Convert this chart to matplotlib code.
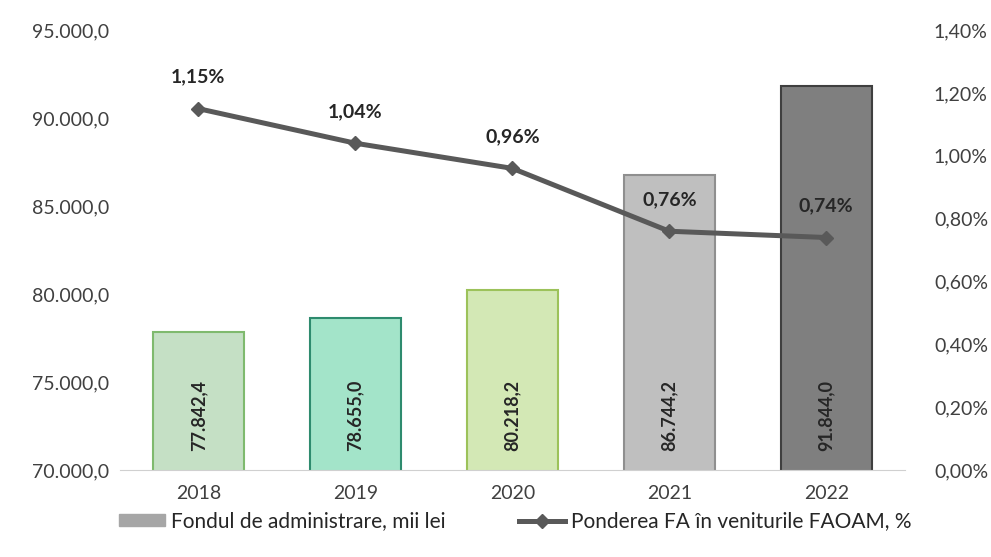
import matplotlib.pyplot as plt
from matplotlib.lines import Line2D
from matplotlib.patches import Patch

plt.rcParams['font.family'] = ['Lato', 'DejaVu Sans']

years = ["2018", "2019", "2020", "2021", "2022"]
fond = [77842.4, 78655.0, 80218.2, 86744.2, 91844.0]
pondere = [1.15, 1.04, 0.96, 0.76, 0.74]

bar_colors = ["#c5e0c5", "#a3e4c9", "#d3e8b5", "#bfbfbf", "#7f7f7f"]
edge_colors = ["#7fba6e", "#2e8b6e", "#9cc25a", "#8f8f8f", "#3f3f3f"]


def ro(v, dec):
    s = f"{v:,.{dec}f}"
    return s.replace(",", "X").replace(".", ",").replace("X", ".")


fig = plt.figure(figsize=(9.91, 5.57), dpi=100)
ax = fig.add_axes([0.121, 0.156, 0.792, 0.79])
x = range(len(years))
ax.bar(x, fond, width=0.58, color=bar_colors, edgecolor=edge_colors, linewidth=1.5, zorder=2)
ax.set_ylim(70000, 95000)
ax.set_xlim(-0.5, len(years) - 0.5)
ax.set_yticks(range(70000, 95001, 5000))
ax.set_yticklabels([ro(v, 1) for v in range(70000, 95001, 5000)])
ax.set_xticks(list(x))
ax.set_xticklabels(years)
for s in ["top", "right", "left"]:
    ax.spines[s].set_visible(False)
ax.spines["bottom"].set_color("#d0d0d0")
ax.tick_params(axis="both", length=0, labelsize=14, colors="#404040")
ax.tick_params(axis="y", pad=8)
ax.tick_params(axis="x", pad=11)

# value labels sit at the same height inside every bar
for i, v in enumerate(fond):
    ax.text(i, 73100, ro(v, 1), rotation=90,
            ha="center", va="center", fontsize=13, fontweight="bold", color="#262626")

ax2 = ax.twinx()
ax2.plot(list(x), pondere, color="#595959", linewidth=3.6, marker="D", markersize=7, zorder=3)
ax2.set_ylim(0, 1.4)
ticks = [i * 0.2 for i in range(8)]
ax2.set_yticks(ticks)
ax2.set_yticklabels([ro(t, 2) + "%" for t in ticks])
for s in ["top", "right", "left", "bottom"]:
    ax2.spines[s].set_visible(False)
ax2.tick_params(axis="y", length=0, labelsize=14, colors="#404040", pad=21)
for i, p in enumerate(pondere):
    ax2.annotate(ro(p, 2) + "%", (i, p), xytext=(0, 23), textcoords="offset points",
                 ha="center", va="center", fontsize=14, fontweight="bold", color="#262626")

handles = [Patch(facecolor="#a6a6a6", edgecolor="#a6a6a6"),
           Line2D([0], [0], color="#595959", linewidth=3.6, marker="D", markersize=7)]
fig.legend(handles, ["Fondul de administrare, mii lei", "Ponderea FA în veniturile FAOAM, %"],
           loc="center", bbox_to_anchor=(0.52, 0.064), ncol=2, frameon=False,
           fontsize=15, labelcolor="#262626", handlelength=2.2, handleheight=0.5,
           handletextpad=0.3, columnspacing=3.5)

fig.savefig("out.png", dpi=100)
